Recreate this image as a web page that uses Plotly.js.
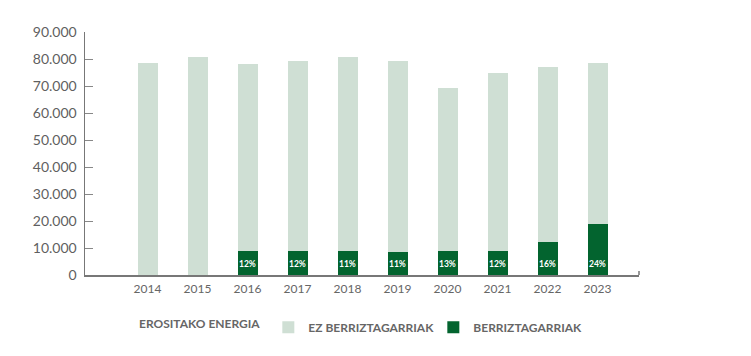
<!DOCTYPE html>
<html>
<head>
<meta charset="utf-8">
<script src="https://cdn.plot.ly/plotly-3.0.1.min.js"></script>
<style>html,body{margin:0;padding:0;background:#fff;}#chart{width:751px;height:356px;}</style>
</head>
<body>
<div id="chart"></div>
<script>
const years = ['2014','2015','2016','2017','2018','2019','2020','2021','2022','2023'];
const renewable = [0, 0, 8900, 8900, 8900, 8400, 8900, 8900, 12400, 19000];
const nonRenewable = [78700, 80600, 69400, 70500, 71700, 71000, 60500, 66100, 64600, 59700];
const pctLabels = ['', '', '12%', '12%', '11%', '11%', '13%', '12%', '16%', '24%'];
const yTicks = [0, 10000, 20000, 30000, 40000, 50000, 60000, 70000, 80000, 90000];

const LIGHT = '#cfdfd4';
const DARK = '#03642f';
const GREY = '#666666';

const traces = [
  {
    type: 'bar', name: 'BERRIZTAGARRIAK', x: years, y: renewable,
    marker: {color: DARK, line: {width: 0}}, hoverinfo: 'x+y'
  },
  {
    type: 'bar', name: 'EZ BERRIZTAGARRIAK', x: years, y: nonRenewable,
    marker: {color: LIGHT, line: {width: 0}}, hoverinfo: 'x+y'
  }
];

const annotations = [];
years.forEach((yr, i) => {
  if (pctLabels[i]) {
    annotations.push({
      x: i, y: 0, xref: 'x', yref: 'y', yshift: 11,
      text: '<b>' + pctLabels[i] + '</b>', showarrow: false,
      font: {family: 'Lato', size: 8.5, color: '#ffffff'}
    });
  }
});

const layout = {
  width: 751, height: 356,
  margin: {l: 85, r: 112, t: 32, b: 81, autoexpand: false},
  paper_bgcolor: '#ffffff', plot_bgcolor: '#ffffff',
  separators: ',.',
  barmode: 'stack',
  bargap: 0.6,
  font: {family: 'Lato', color: GREY},
  xaxis: {
    type: 'category', range: [-1.25, 9.83],
    showgrid: false, zeroline: false,
    showline: true, linecolor: '#777777', linewidth: 1.5,
    ticks: '', tickfont: {family: 'Lato', size: 12, color: GREY},
    ticklabelstandoff: 2
  },
  yaxis: {
    range: [0, 90000], tickvals: yTicks, tickformat: ',d',
    showgrid: false, zeroline: false,
    showline: true, linecolor: '#777777', linewidth: 1.5,
    ticks: 'inside', ticklen: 8, tickcolor: '#888888', tickwidth: 1,
    tickfont: {family: 'Lato', size: 14, color: '#5f5f5f'},
    ticklabelstandoff: 4
  },
  showlegend: true,
  legend: {
    orientation: 'h', traceorder: 'reversed',
    x: (137 - 85) / (751 - 85 - 112), xref: 'paper', xanchor: 'left',
    y: -0.215, yanchor: 'middle',
    entrywidth: 120, entrywidthmode: 'pixels',
    font: {family: 'Lato', size: 12, color: GREY, weight: 'bold'},
    title: {text: 'EROSITAKO ENERGIA', side: 'left', font: {family: 'Lato', size: 12, color: GREY, weight: 'bold'}},
    itemclick: false
  },
  shapes: [
    {type: 'line', xref: 'paper', yref: 'y', x0: 1, x1: 1, y0: 0, y1: 1500,
     line: {color: '#777777', width: 1.5}}
  ],
  annotations: annotations
};

Plotly.newPlot('chart', traces, layout, {displayModeBar: false, staticPlot: true});
</script>
</body>
</html>
